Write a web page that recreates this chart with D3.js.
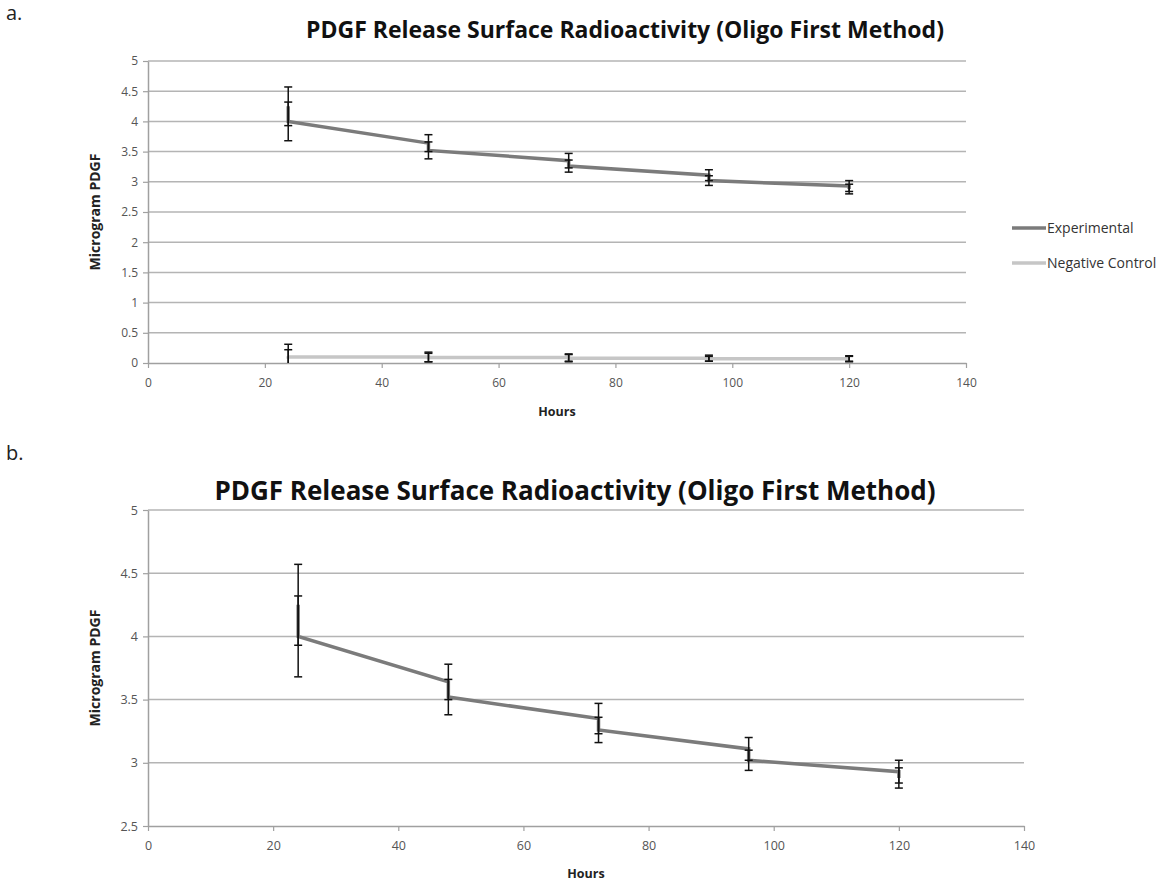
<!DOCTYPE html>
<html>
<head>
<meta charset="utf-8">
<script src="https://cdn.jsdelivr.net/npm/d3@7"></script>
<style>
  body { margin: 0; background: #fff; }
  text { font-family: "Open Sans", sans-serif; }
</style>
</head>
<body>
<div id="chart"></div>
<script>
const width = 1172;
const height = 884;

// Data (two readings per time point)
const hours = [24, 24, 48, 48, 72, 72, 96, 96, 120, 120];
const experimental = [4.25, 4.00, 3.64, 3.52, 3.35, 3.26, 3.11, 3.02, 2.93, 2.88];
const experimentalErr = [0.32, 0.32, 0.14, 0.14, 0.12, 0.10, 0.09, 0.08, 0.09, 0.08];
const negControl = [0.11, 0.10, 0.10, 0.09, 0.09, 0.08, 0.08, 0.07, 0.07, 0.07];
const negControlErr = [0.20, 0.12, 0.08, 0.07, 0.06, 0.06, 0.05, 0.04, 0.05, 0.04];

const xTicks = [0, 20, 40, 60, 80, 100, 120, 140];
const yTicksA = [0, 0.5, 1, 1.5, 2, 2.5, 3, 3.5, 4, 4.5, 5];
const yTicksB = [2.5, 3, 3.5, 4, 4.5, 5];
const titleText = "PDGF Release Surface Radioactivity (Oligo First Method)";
const legendNames = ["Experimental", "Negative Control"];
const seriesColors = ["#7b7b7b", "#c6c6c6"];

const svg = d3.select("#chart").append("svg")
  .attr("width", width)
  .attr("height", height);

function toPoints(vals, errs) {
  return hours.map((h, i) => ({ x: h, y: vals[i], e: errs[i] }));
}

function drawPanel(opt) {
  const x = d3.scaleLinear().domain([0, 140]).range([opt.left, opt.right]);
  const y = d3.scaleLinear().domain(opt.yDomain).range([opt.bottom, opt.top]);
  const g = svg.append("g");

  // panel letter
  g.append("text")
    .attr("x", 6).attr("y", opt.letterY)
    .attr("font-size", 20).attr("fill", "#222")
    .text(opt.letter);

  // title
  g.append("text")
    .attr("x", opt.titleX).attr("y", opt.titleY)
    .attr("text-anchor", "middle")
    .attr("font-size", opt.titleSize).attr("font-weight", "bold")
    .attr("fill", "#111")
    .text(titleText);

  // gridlines
  g.selectAll(".grid")
    .data(opt.yTicks.filter(t => t !== opt.yDomain[0]))
    .enter().append("line")
    .attr("x1", opt.left).attr("x2", opt.right)
    .attr("y1", d => y(d)).attr("y2", d => y(d))
    .attr("stroke", "#b4b4b4").attr("stroke-width", 1.5);

  // y axis
  const yAxis = g.append("g")
    .attr("transform", `translate(${opt.left},0)`)
    .call(d3.axisLeft(y).tickValues(opt.yTicks).tickSize(5).tickSizeOuter(0)
      .tickFormat(d3.format("")));
  yAxis.select(".domain").attr("stroke", "#a0a0a0").attr("stroke-width", 1.5);
  yAxis.selectAll(".tick line").attr("stroke", "#a0a0a0").attr("stroke-width", 1.2);
  yAxis.selectAll(".tick text")
    .attr("font-size", opt.tickSize).attr("fill", "#555")
    .attr("font-family", "'Open Sans', sans-serif").attr("x", -10);

  // x axis
  const xAxis = g.append("g")
    .attr("transform", `translate(0,${opt.bottom})`)
    .call(d3.axisBottom(x).tickValues(xTicks).tickSize(5).tickSizeOuter(0));
  xAxis.select(".domain").attr("stroke", "#a0a0a0").attr("stroke-width", 1.5);
  xAxis.selectAll(".tick line").attr("stroke", "#a0a0a0").attr("stroke-width", 1.2);
  xAxis.selectAll(".tick text")
    .attr("font-size", opt.tickSize).attr("fill", "#555")
    .attr("font-family", "'Open Sans', sans-serif").attr("y", 15);

  // axis titles
  g.append("text")
    .attr("transform", `translate(${opt.yLabelX},${(opt.top + opt.bottom) / 2}) rotate(-90)`)
    .attr("text-anchor", "middle")
    .attr("font-size", 14).attr("font-weight", "bold").attr("fill", "#222")
    .text("Microgram PDGF");
  g.append("text")
    .attr("x", (opt.left + opt.right) / 2).attr("y", opt.bottom + opt.xLabelDy)
    .attr("text-anchor", "middle")
    .attr("font-size", 12.5).attr("font-weight", "bold").attr("fill", "#222")
    .text("Hours");

  // clip to plot area
  const clipId = "clip-" + opt.letter.replace(".", "");
  svg.append("clipPath").attr("id", clipId)
    .append("rect")
    .attr("x", opt.left).attr("y", opt.top - 5)
    .attr("width", opt.right - opt.left).attr("height", opt.bottom - opt.top + 5);
  const plot = g.append("g").attr("clip-path", `url(#${clipId})`);

  const line = d3.line().x(d => x(d.x)).y(d => y(d.y));

  opt.series.forEach(s => {
    plot.append("path")
      .datum(s.points)
      .attr("d", line)
      .attr("fill", "none")
      .attr("stroke", s.color)
      .attr("stroke-width", 3.5);
  });

  // error bars
  opt.series.forEach(s => {
    const eb = plot.selectAll(null).data(s.points).enter().append("g");
    eb.append("line")
      .attr("x1", d => x(d.x)).attr("x2", d => x(d.x))
      .attr("y1", d => y(d.y - d.e)).attr("y2", d => y(d.y + d.e))
      .attr("stroke", "#111").attr("stroke-width", 1.5);
    eb.append("line")
      .attr("x1", d => x(d.x) - 4).attr("x2", d => x(d.x) + 4)
      .attr("y1", d => y(d.y + d.e)).attr("y2", d => y(d.y + d.e))
      .attr("stroke", "#111").attr("stroke-width", 1.5);
    eb.append("line")
      .attr("x1", d => x(d.x) - 4).attr("x2", d => x(d.x) + 4)
      .attr("y1", d => y(d.y - d.e)).attr("y2", d => y(d.y - d.e))
      .attr("stroke", "#111").attr("stroke-width", 1.5);
  });

  // legend
  if (opt.legend) {
    legendNames.forEach((name, i) => {
      const ly = 228 + i * 35;
      g.append("line")
        .attr("x1", 1012).attr("x2", 1046)
        .attr("y1", ly).attr("y2", ly)
        .attr("stroke", seriesColors[i]).attr("stroke-width", 3.5);
      g.append("text")
        .attr("x", 1047).attr("y", ly + 5)
        .attr("font-size", 14).attr("fill", "#333")
        .text(name);
    });
  }
}

const expSeries = { points: toPoints(experimental, experimentalErr), color: seriesColors[0] };
const negSeries = { points: toPoints(negControl, negControlErr), color: seriesColors[1] };

drawPanel({
  letter: "a.", letterY: 20,
  titleX: 625, titleY: 38, titleSize: 23,
  left: 148, right: 966, top: 61, bottom: 363,
  yDomain: [0, 5], yTicks: yTicksA, tickSize: 12,
  yLabelX: 100, xLabelDy: 53,
  series: [expSeries, negSeries],
  legend: true
});

drawPanel({
  letter: "b.", letterY: 460,
  titleX: 575, titleY: 500, titleSize: 26,
  left: 148, right: 1024, top: 510, bottom: 826,
  yDomain: [2.5, 5], yTicks: yTicksB, tickSize: 12.5,
  yLabelX: 100, xLabelDy: 52,
  series: [expSeries],
  legend: false
});
</script>
</body>
</html>
